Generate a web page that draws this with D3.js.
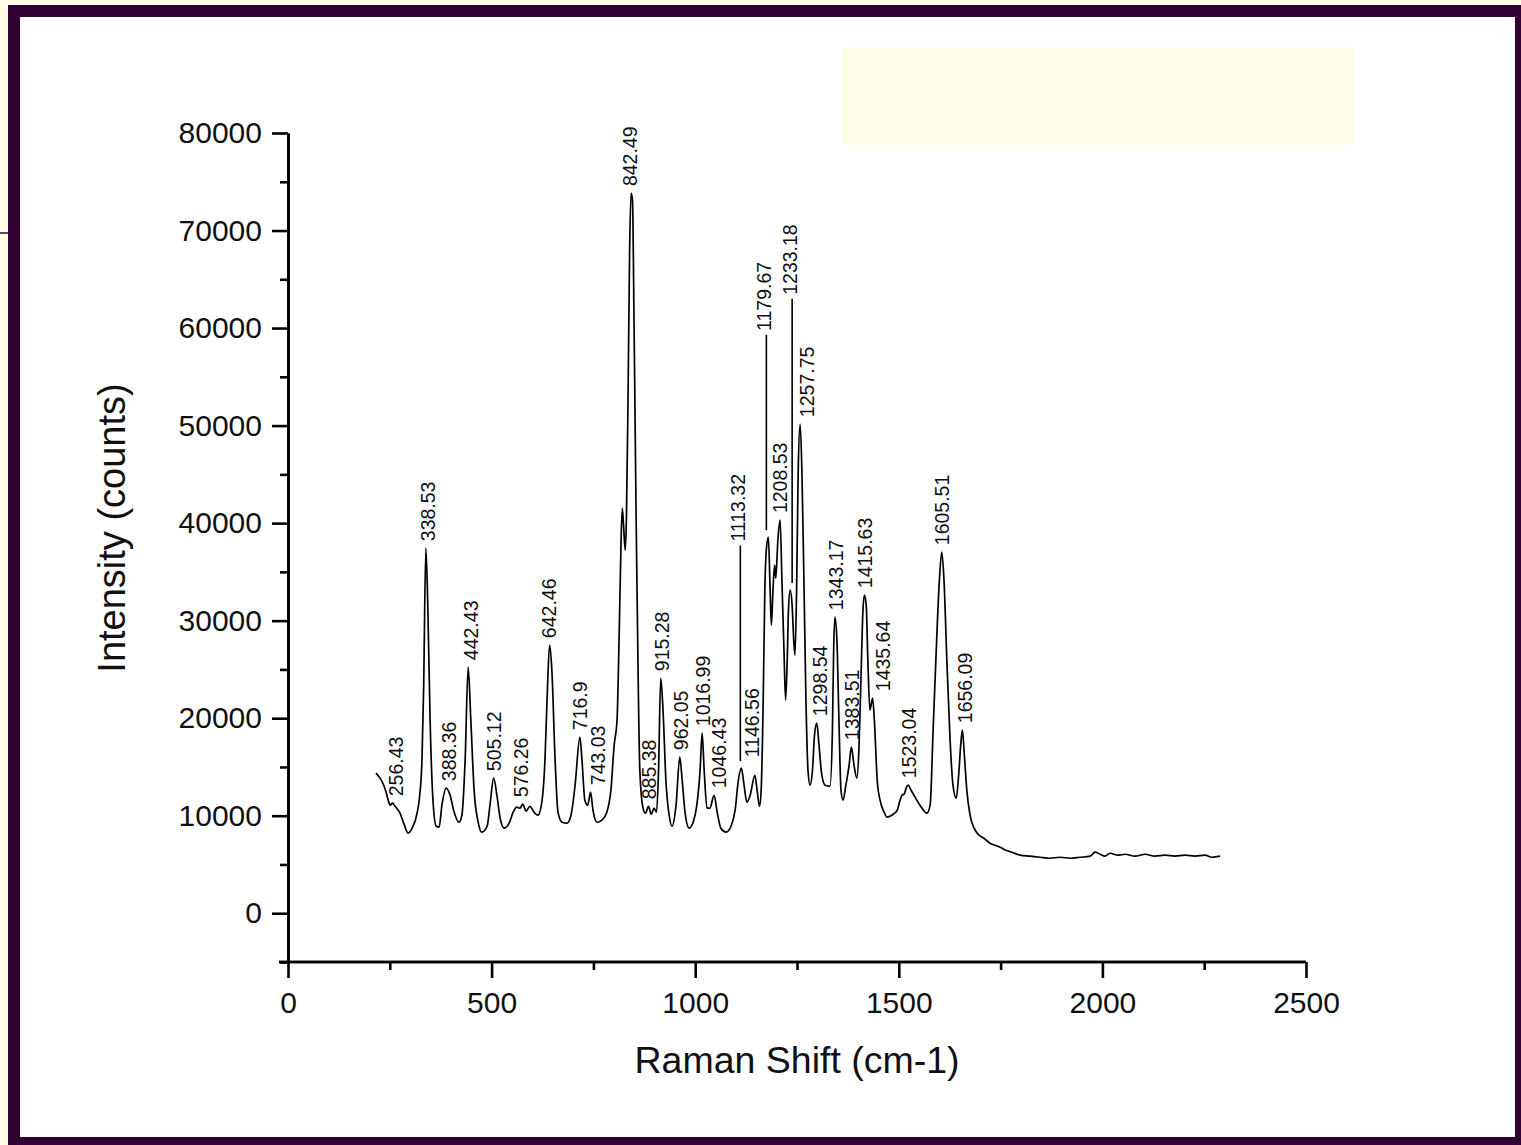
<!DOCTYPE html>
<html><head><meta charset="utf-8">
<script src="https://cdn.jsdelivr.net/npm/d3@7"></script>
<style>body{margin:0;background:#fffde8;overflow:hidden}</style>
</head><body><svg id="c" width="1521" height="1145"></svg>
<script>
// ---------- data ----------
const ramanShift = [216,226,233,241,246,251,256.43,263,275,285,295,305,317,324,329,333,338.53,343,349,356,364,371,378,388.36,398,408,420,427,435,442.43,449,457,467,476,489,496,505.12,513,521,531,543,553,562,570,576.26,585,594,604,614,624,631,637,642.46,648,656,663,673,685,695,705,716.9,722,729,736,743.03,749,759,771,783,793,801,808,814,818,821,824,828,831,835,839,842.49,846,850,855,860,864,872,878,885.38,892,899,905,910,915.28,921,928,936,943,953,962.05,968,975,985,995,1004,1012,1016.99,1022,1029,1036,1046.43,1054,1063,1076,1088,1098,1106,1113.32,1120,1127,1135,1146.56,1152,1158,1162,1167,1171,1175,1179.67,1184,1187,1191,1195,1198,1203,1208.53,1213,1218,1222,1226,1229,1233.18,1238,1242,1245,1249,1253,1257.75,1262,1267,1272,1277,1282,1288,1293,1298.54,1304,1311,1319,1331,1337,1340,1343.17,1348,1353,1358,1363,1370,1378,1383.51,1390,1397,1402,1407,1412,1415.63,1420,1424,1429,1435.64,1440,1447,1454,1464,1471,1483,1496,1503,1508,1513,1518,1523.04,1530,1540,1552,1569,1577,1584,1591,1599,1605.51,1611,1618,1626,1633,1641,1647,1652,1656.09,1661,1667,1675,1685,1697,1709,1724,1736,1749,1763,1778,1798,1822,1847,1871,1896,1921,1945,1970,1982,1994,2006,2019,2038,2056,2080,2105,2129,2154,2178,2203,2227,2252,2269,2289];
const intensity = [14360,13850,13330,12410,11590,11080,11280,10970,10260,9130,8210,8720,10260,12310,15690,22870,37430,32100,19790,11590,8920,8820,11080,12820,12100,10360,9330,10050,15690,25230,19790,12620,9330,8310,8920,11080,13850,12100,9740,8720,9230,10360,10870,10770,11180,10460,10970,10360,10050,11590,15690,22870,27490,24920,15690,10360,9330,9230,10050,13130,18050,15690,11590,11080,12410,10560,9330,9540,10360,12620,17230,19790,30050,38260,41540,39790,37230,40310,52610,68000,73840,73130,59790,40310,23900,14670,10770,10260,10970,10150,10770,10360,14670,24100,20820,13640,10050,8920,11080,16000,13640,10360,8720,9330,11080,14670,18460,14670,10770,10770,12100,10360,8720,8310,8920,10560,13640,14870,13130,11380,12100,14150,12620,10970,12620,21850,33130,37430,38560,33130,29540,33130,35690,34360,38260,40310,34150,26970,21850,25950,31080,33130,31590,28000,26460,33130,45430,50150,45430,34150,21850,14670,13130,14670,18260,19490,17230,14150,13130,13030,18770,26970,30360,28000,19790,12620,11590,13130,15180,17030,15180,13850,16720,23900,31080,32610,31590,25950,20820,22050,19790,13640,11590,10360,9850,10050,10560,11590,12100,12210,12820,13130,12620,11900,11080,10260,11080,18460,25950,33640,37020,34150,25950,17740,13130,11790,14150,17230,18770,16210,12620,10050,8720,8000,7690,7180,6970,6770,6460,6260,5950,5850,5740,5640,5740,5640,5740,5850,6260,6050,5850,6150,5950,6050,5850,6050,5850,5950,5850,5950,5850,5950,5740,5850];
const peakLabels = ["256.43","338.53","388.36","442.43","505.12","576.26","642.46","716.9","743.03","842.49","885.38","915.28","962.05","1016.99","1046.43","1113.32","1146.56","1179.67","1208.53","1233.18","1257.75","1298.54","1343.17","1383.51","1415.63","1435.64","1523.04","1605.51","1656.09"];
const xTicks = [0,500,1000,1500,2000,2500];
const xMinorTicks = [250,750,1250,1750,2250];
const yTicks = [0,10000,20000,30000,40000,50000,60000,70000,80000];
const yMinorTicks = [-5000,5000,15000,25000,35000,45000,55000,65000,75000];
const xTitle = "Raman Shift (cm-1)";
const yTitle = "Intensity (counts)";
// leader-line tops (counts) for labels lifted above their peaks
const leaderTop = {"1113.32":37700,"1179.67":59300,"1233.18":63000};

// ---------- layout ----------
const FONT = "'Liberation Sans', Arial, Helvetica, sans-serif";
const labelDx = {"256.43":4,"338.53":2,"388.36":3,"442.43":3,"505.12":0,"576.26":-2,"642.46":-1,"716.9":0,"743.03":7,"842.49":-1,"885.38":0,"1046.43":5,"1113.32":-3,"1146.56":-3,"1179.67":-4,"1208.53":0,"1233.18":0,"1257.75":7,"1298.54":3,"1435.64":10,"1656.09":3,"1605.51":0};
const labelGap = {"1146.56":18,"1523.04":7};

const svg = d3.select("#c");
svg.append("rect").attr("width",1521).attr("height",1145).attr("fill","#fffde8");
svg.append("rect").attr("x",8).attr("y",5).attr("width",1513).attr("height",1140).attr("fill","#330033");
svg.append("rect").attr("x",20).attr("y",17).attr("width",1495).attr("height",1120).attr("fill","#ffffff");
svg.append("line").attr("x1",0).attr("x2",9).attr("y1",233).attr("y2",233).attr("stroke","#330033").attr("stroke-width",1.5);
svg.append("rect").attr("x",842).attr("y",47).attr("width",512).attr("height",98).attr("fill","#fffde7");

const x = d3.scaleLinear().domain([0,2500]).range([288,1306]);
const y = d3.scaleLinear().domain([-5000,80000]).range([962,133]);

function styleAxis(g){
  g.selectAll("path,line").attr("stroke","#000").attr("stroke-width",2.6);
  g.selectAll("text").attr("font-family",FONT).attr("font-size",30).attr("fill","#111");
}
// y axis
const gy = svg.append("g").attr("transform","translate(288,0)");
gy.append("g").call(d3.axisLeft(y).tickValues(yMinorTicks).tickSize(8).tickSizeOuter(0).tickFormat("")).call(styleAxis);
gy.append("g").call(d3.axisLeft(y).tickValues(yTicks).tickSize(16).tickSizeOuter(0).tickPadding(10).tickFormat(d3.format("d"))).call(styleAxis);
// x axis
const gx = svg.append("g").attr("transform","translate(0,962)");
gx.append("g").call(d3.axisBottom(x).tickValues(xMinorTicks).tickSize(8).tickSizeOuter(0).tickFormat("")).call(styleAxis);
gx.append("g").call(d3.axisBottom(x).tickValues(xTicks).tickSize(16).tickSizeOuter(0).tickPadding(14).tickFormat(d3.format("d"))).call(styleAxis);
gx.selectAll("path.domain").attr("d","M279,0H1306");

// titles
svg.append("text").attr("x",797).attr("y",1073).attr("text-anchor","middle")
  .attr("font-family",FONT).attr("font-size",37.5).attr("fill","#111").text(xTitle);
svg.append("text").attr("transform","translate(125,528) rotate(-90)").attr("text-anchor","middle")
  .attr("font-family",FONT).attr("font-size",38).attr("fill","#111").text(yTitle);

// spectrum
const pts = ramanShift.map((s,i)=>[s,intensity[i]]);
svg.append("path").datum(pts)
  .attr("d", d3.line().curve(d3.curveMonotoneX).x(d=>x(d[0])).y(d=>y(d[1])))
  .attr("fill","none").attr("stroke","#000").attr("stroke-width",1.7).attr("stroke-linejoin","round");

// peak labels
const valAt = v => {
  const i = d3.bisectLeft(ramanShift, v);
  if (ramanShift[i] === v) return intensity[i];
  const x0 = ramanShift[i-1], x1 = ramanShift[i];
  return intensity[i-1] + (intensity[i]-intensity[i-1])*(v-x0)/(x1-x0);
};
const gl = svg.append("g");
peakLabels.forEach(L=>{
  const v = +L;
  const px = x(v) + (L in labelDx ? labelDx[L] : 1);
  const peakY = y(valAt(v));
  let startY;
  if (L in leaderTop){
    const top = y(leaderTop[L]);
    gl.append("line").attr("x1",px+2).attr("x2",px+2).attr("y1",top).attr("y2",peakY-7)
      .attr("stroke","#000").attr("stroke-width",1.6);
    startY = top - 4;
  } else {
    startY = peakY - (L in labelGap ? labelGap[L] : 7);
  }
  gl.append("text").attr("transform",`translate(${px},${startY}) rotate(-90)`)
    .attr("dominant-baseline","central").attr("text-anchor","start")
    .attr("font-family",FONT).attr("font-size",19.5).attr("fill","#111").text(L);
});
</script></body></html>
